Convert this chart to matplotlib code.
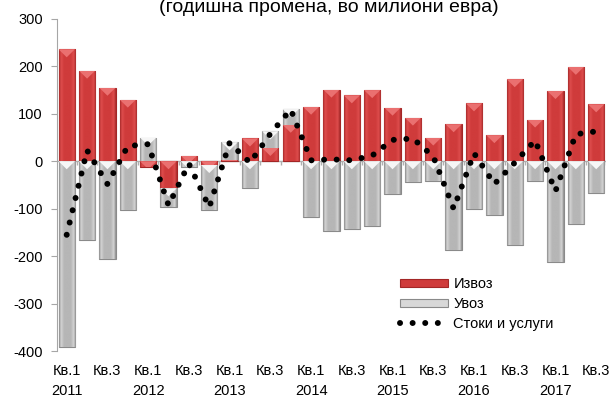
import matplotlib.pyplot as plt
import numpy as np
from matplotlib.patches import Polygon, Patch
from matplotlib.lines import Line2D
from matplotlib.colors import LinearSegmentedColormap

plt.rcParams['font.family'] = ['Liberation Sans', 'DejaVu Sans']
plt.rcParams['axes.unicode_minus'] = False

# Annual change by quarter, 2011 Q1 - 2017 Q3 (EUR million)
export_change = [236, 191, 155, 130, -12, -57, 12, -8, 3, 48, 28, 77, 115, 151,
                 139, 150, 113, 92, 50, 78, 122, 55, 173, 88, 148, 199, 120]
import_change = [-392, -167, -206, -102, 50, -40, -12, -95, 37, -56, 35, 33, -118, -148,
                 -142, -137, -68, -44, -42, -188, -100, -113, -177, -42, -213, -133, -67]
goods_services = [-155, 23, -48, 32, 36, -93, -5, -97, 39, -3, 58, 109, 2, 4,
                  2, 12, 45, 48, 10, -100, 17, -48, -3, 44, -63, 57, 63]
tick_labels = ['Кв.1\n2011', 'Кв.3', 'Кв.1\n2012', 'Кв.3', 'Кв.1\n2013', 'Кв.3',
               'Кв.1\n2014', 'Кв.3', 'Кв.1\n2015', 'Кв.3', 'Кв.1\n2016', 'Кв.3',
               'Кв.1\n2017', 'Кв.3']

exp = np.array(export_change)
imp = np.array(import_change)
x = np.arange(len(exp))

# stacked columns: same-sign values stack on top of exports
imp_bottom = np.where(np.sign(imp) == np.sign(exp), exp, 0)

fig = plt.figure(figsize=(6.13, 4.03), dpi=100)
ax = fig.add_axes([0.0922, 0.129, 0.897, 0.824])
ax.set_xlim(-0.5, len(x) - 0.5)
ax.set_ylim(-400, 300)

red_bars = ax.bar(x, exp, width=0.8, color='#cf3b3b', edgecolor='#a32626',
                  linewidth=0.8, zorder=2)
grey_bars = ax.bar(x, imp, bottom=imp_bottom, width=0.8, color='#b4b4b4',
                   edgecolor='#8a8a8a', linewidth=0.8, zorder=2)

red_cmap = LinearSegmentedColormap.from_list(
    'red_col', [(0, '#a82a2a'), (0.12, '#de4d4d'), (0.3, '#cf3b3b'),
                (0.7, '#cf3b3b'), (0.88, '#de4d4d'), (1, '#a82a2a')])
grey_cmap = LinearSegmentedColormap.from_list(
    'grey_col', [(0, '#8c8c8c'), (0.12, '#d4d4d4'), (0.3, '#b6b6b6'),
                 (0.7, '#b6b6b6'), (0.88, '#d4d4d4'), (1, '#8c8c8c')])
profile = np.linspace(0, 1, 64)[None, :]

# shaded fill and bevel highlight for each column
units_per_px = 700 / (0.824 * 403)
depth = 8 * units_per_px
for bars, cmap, light in ((red_bars, red_cmap, '#ea7070'),
                          (grey_bars, grey_cmap, '#f6f6f6')):
    for p in bars:
        x0, w = p.get_x(), p.get_width()
        y0, y1 = sorted((p.get_y(), p.get_y() + p.get_height()))
        im = ax.imshow(profile, cmap=cmap, aspect='auto', extent=(x0, x0 + w, y0, y1),
                       interpolation='bilinear', zorder=2.5)
        im.set_clip_path(p)
        tri = Polygon([(x0, y1), (x0 + w, y1), (x0 + w / 2, y1 - depth)],
                      closed=True, facecolor=light, edgecolor='none', zorder=3)
        ax.add_patch(tri)
        tri.set_clip_path(p)
ax.set_xlim(-0.5, len(x) - 0.5)
ax.set_ylim(-400, 300)

ax.plot(x, goods_services, color='black', linewidth=4.3,
        linestyle=(0, (0.01, 2.1)), dash_capstyle='round', zorder=4)

# category axis at zero
ax.axhline(0, color='#b0b0b0', linewidth=1, zorder=1.5)
ax.vlines(np.arange(0.5, len(x), 1), -7, 0, color='#b0b0b0', linewidth=1, zorder=1.5)

ax.set_xticks(x[::2])
ax.set_xticklabels(tick_labels, fontsize=10.5, linespacing=1.55)
ax.tick_params(axis='x', length=0, pad=9)
ax.set_yticks(np.arange(-400, 301, 100))
ax.tick_params(axis='y', length=4, color='#a6a6a6', labelsize=10.5, pad=6)

for side in ('top', 'right', 'bottom'):
    ax.spines[side].set_visible(False)
ax.spines['left'].set_color('#a6a6a6')

fig.text(0.537, 1 - 12.5 / 403, '(годишна промена, во милиони евра)',
         ha='center', va='baseline', fontsize=14)

handles = [Patch(facecolor='#cf3b3b', edgecolor='#a32626', linewidth=0.8),
           Patch(facecolor='#d8d8d8', edgecolor='#8a8a8a', linewidth=0.8),
           Line2D([], [], color='black', linewidth=4.3, linestyle=(0, (0.01, 2.1)),
                  dash_capstyle='round')]
ax.legend(handles, ['Извоз', 'Увоз', 'Стоки и услуги'], loc='upper left',
          bbox_to_anchor=(0.641, 0.33), bbox_transform=fig.transFigure,
          frameon=False, fontsize=10.5, handlelength=3.3, handleheight=0.45,
          handletextpad=0.35, labelspacing=0.4, borderpad=0)

fig.savefig('out.png', dpi=100)
